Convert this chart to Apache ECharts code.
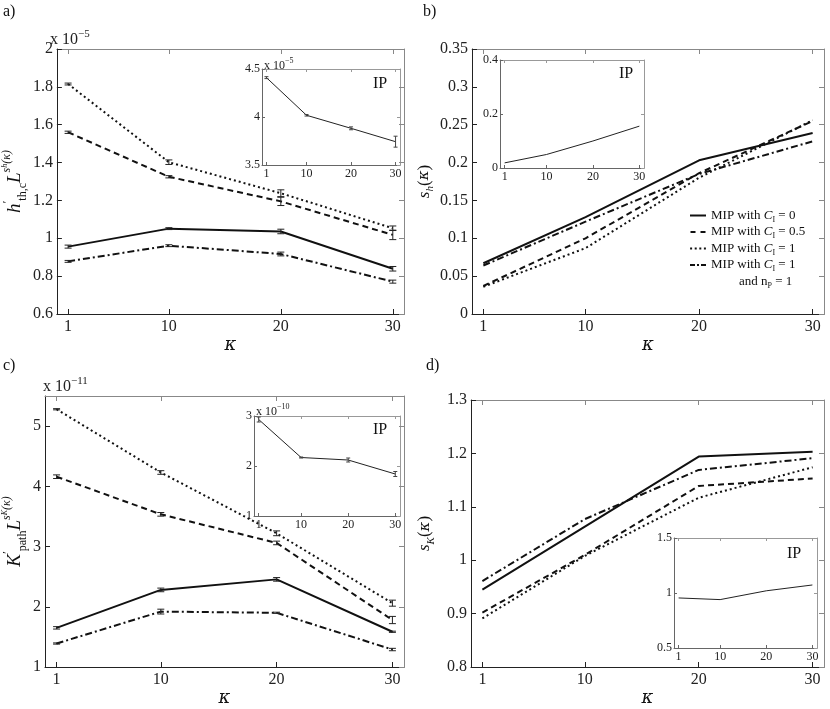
<!DOCTYPE html>
<html><head><meta charset="utf-8">
<script src="https://cdn.jsdelivr.net/npm/echarts@6/dist/echarts.min.js"></script>
<style>html,body{margin:0;padding:0;background:#fff}#c{width:830px;height:709px}</style>
</head><body><div id="c"></div>
<script>
// ---------- data ----------
const kappa = [1, 10, 20, 30];
const xTicks = [1, 10, 20, 30];

// a) h'_th,c L^{s_h(κ)}  (x 1e-5)
const hC0    = [0.956, 1.051, 1.036, 0.839];
const hC05   = [1.560, 1.325, 1.195, 1.018];
const hC1    = [1.815, 1.402, 1.238, 1.053];
const hC1np  = [0.878, 0.961, 0.917, 0.771];
const hErrC0   = [0.008, 0.005, 0.012, 0.012];
const hErrC05  = [0.006, 0.006, 0.022, 0.025];
const hErrC1   = [0.005, 0.012, 0.018, 0.012];
const hErrC1np = [0.005, 0.005, 0.010, 0.008];
const hIP    = [4.41, 4.018, 3.882, 3.743];
const hIPErr = [0.01, 0.008, 0.015, 0.057];
const hTicks   = [0.6, 0.8, 1, 1.2, 1.4, 1.6, 1.8, 2];
const hIPTicks = [3.5, 4, 4.5];

// b) s_h(κ)
const shC0   = [0.067, 0.128, 0.203, 0.239];
const shC05  = [0.037, 0.100, 0.186, 0.255];
const shC1   = [0.036, 0.087, 0.180, 0.256];
const shC1np = [0.064, 0.122, 0.185, 0.228];
const shIP   = [0.019, 0.050, 0.100, 0.155];
const shTicks   = [0, 0.05, 0.1, 0.15, 0.2, 0.25, 0.3, 0.35];
const shIPTicks = [0, 0.2, 0.4];

// c) K'_path L^{s_K(κ)}  (x 1e-11), inset x 1e-10
const kC0   = [1.65, 2.28, 2.455, 1.585];
const kC05  = [4.16, 3.535, 3.06, 1.78];
const kC1   = [5.28, 4.23, 3.22, 2.06];
const kC1np = [1.39, 1.92, 1.90, 1.29];
const kErrC0   = [0.02, 0.03, 0.03, 0.01];
const kErrC05  = [0.03, 0.03, 0.03, 0.06];
const kErrC1   = [0.01, 0.03, 0.04, 0.05];
const kErrC1np = [0.01, 0.04, 0.01, 0.02];
const kIP    = [2.93, 2.17, 2.12, 1.84];
const kIPErr = [0.05, 0.01, 0.04, 0.05];
const kTicks   = [1, 2, 3, 4, 5];
const kIPTicks = [1, 2, 3];

// d) s_K(κ)
const skC0   = [0.945, 1.063, 1.194, 1.203];
const skC05  = [0.902, 1.010, 1.139, 1.153];
const skC1   = [0.891, 1.008, 1.117, 1.174];
const skC1np = [0.961, 1.077, 1.169, 1.191];
const skIP   = [0.955, 0.940, 1.020, 1.073];
const skTicks   = [0.8, 0.9, 1, 1.1, 1.2, 1.3];
const skIPTicks = [0.5, 1, 1.5];

// ---------- styles ----------
const FONT = 'Liberation Serif';
const STY = {
  c0:   {type: 'solid', width: 2},
  c05:  {type: [6, 4], width: 2},
  c1:   {type: [2, 3], width: 2},
  c1np: {type: [7, 3, 2, 3], width: 2}
};
const ICON = {
  c0:   'path://M0,0h16v2h-16z',
  c05:  'path://M0,0h5v2h-5zM10,0h5v2h-5z',
  c1:   'path://M0,0h2v2h-2zM4.6,0h2v2h-2zM9.2,0h2v2h-2zM13.8,0h2v2h-2z',
  c1np: 'path://M0,0h5v2h-5zM7,0h2v2h-2zM11,0h5v2h-5z'
};

const grids = [
  {left: 49,  top: 49,  width: 355, height: 265},  // a
  {left: 472, top: 49,  width: 352, height: 265},  // b
  {left: 43,  top: 396, width: 361, height: 271},  // c
  {left: 471, top: 400, width: 353, height: 267},  // d
  {left: 262, top: 69,  width: 138, height: 96},   // a inset
  {left: 500, top: 60,  width: 144, height: 108},  // b inset
  {left: 254, top: 416, width: 146, height: 100},  // c inset
  {left: 674, top: 538, width: 143, height: 110}   // d inset
];

const xAxes = [], yAxes = [];
function addAxes(gi, yMin, yMax, yTicks, inset, yName, yRich, yGap) {
  const fs = inset ? 12 : 16;
  const mainCol = inset ? '#666' : '#222';
  const mirCol = inset ? '#999' : '#888';
  const tl = inset ? 3 : 5;
  xAxes.push({
    gridIndex: gi, type: 'value', min: 0, max: 31, position: 'bottom',
    axisLine: {show: true, onZero: false, lineStyle: {color: mainCol, width: 1}},
    axisTick: {show: true, inside: true, length: tl, customValues: xTicks, lineStyle: {color: mainCol}},
    axisLabel: {show: true, customValues: xTicks, fontFamily: FONT, fontSize: fs, color: '#222', margin: inset ? 3 : 5},
    splitLine: {show: false},
    name: inset ? '' : 'κ', nameLocation: 'middle', nameGap: 21,
    nameTextStyle: {fontFamily: 'DejaVu Serif', fontStyle: 'italic', fontSize: 18, color: '#111'}
  });
  xAxes.push({
    gridIndex: gi, type: 'value', min: 0, max: 31, position: 'top',
    axisLine: {show: true, onZero: false, lineStyle: {color: mirCol, width: 1}},
    axisTick: {show: true, inside: true, length: tl, customValues: xTicks, lineStyle: {color: mirCol}},
    axisLabel: {show: false}, splitLine: {show: false}
  });
  yAxes.push({
    gridIndex: gi, type: 'value', min: yMin, max: yMax, position: 'left',
    axisLine: {show: true, onZero: false, lineStyle: {color: mainCol, width: 1}},
    axisTick: {show: true, inside: true, length: tl, customValues: yTicks, lineStyle: {color: mainCol}},
    axisLabel: {show: true, customValues: yTicks, fontFamily: FONT, fontSize: fs, color: '#222', margin: inset ? 2 : 4},
    splitLine: {show: false},
    name: yName || '', nameLocation: 'middle', nameRotate: 90, nameGap: yGap || 30,
    nameTextStyle: {rich: yRich || {}}
  });
  yAxes.push({
    gridIndex: gi, type: 'value', min: yMin, max: yMax, position: 'right',
    axisLine: {show: true, onZero: false, lineStyle: {color: mirCol, width: 1}},
    axisTick: {show: true, inside: true, length: tl, customValues: yTicks, lineStyle: {color: mirCol}},
    axisLabel: {show: false}, splitLine: {show: false}
  });
}

const richBig = {
  i:  {fontFamily: FONT, fontStyle: 'italic', fontSize: 19, lineHeight: 28, color: '#111'},
  n:  {fontFamily: FONT, fontSize: 19, lineHeight: 28, color: '#111'},
  p:  {fontFamily: FONT, fontSize: 13, lineHeight: 13, verticalAlign: 'top', color: '#111'},
  b:  {fontFamily: FONT, fontSize: 12, lineHeight: 12, verticalAlign: 'bottom', color: '#111'},
  s:  {fontFamily: FONT, fontStyle: 'italic', fontSize: 12, lineHeight: 12, verticalAlign: 'top', color: '#111'},
  ss: {fontFamily: FONT, fontStyle: 'italic', fontSize: 8, lineHeight: 22, verticalAlign: 'top', color: '#111'}
};
const richSmall = {
  i: {fontFamily: FONT, fontStyle: 'italic', fontSize: 17, lineHeight: 24, color: '#111'},
  k: {fontFamily: 'DejaVu Serif', fontStyle: 'italic', fontSize: 15, lineHeight: 24, color: '#111'},
  n: {fontFamily: FONT, fontSize: 17, lineHeight: 24, color: '#111'},
  b: {fontFamily: FONT, fontStyle: 'italic', fontSize: 11, lineHeight: 11, verticalAlign: 'bottom', color: '#111'}
};

addAxes(0, 0.6, 2, hTicks, false, '{i|h}{p|′}{b|th,c}{i|L}{s|s}{ss|h}{s|(κ)}', richBig, 24);
addAxes(1, 0, 0.35, shTicks, false, '{i|s}{b|h}{n|(}{k|κ}{n|)}', richSmall, 34);
addAxes(2, 1, 5.5, kTicks, false, '{i|K}{p|′}{b|path}{i|L}{s|s}{ss|K}{s|(κ)}', richBig, 16);
addAxes(3, 0.8, 1.3, skTicks, false, '{i|s}{b|K}{n|(}{k|κ}{n|)}', richSmall, 34);
addAxes(4, 3.5, 4.5, hIPTicks, true);
addAxes(5, 0, 0.4, shIPTicks, true);
addAxes(6, 1, 3, kIPTicks, true);
addAxes(7, 0.5, 1.5, skIPTicks, true);

const series = [];
function pts(v) { return kappa.map((k, i) => [k, v[i]]); }
function addLine(gi, name, vals, sty, inset) {
  series.push({
    type: 'line', name: name, xAxisIndex: gi * 2, yAxisIndex: gi * 2,
    data: pts(vals), symbol: 'none', silent: true, animation: false, z: 3,
    itemStyle: {color: '#111'},
    lineStyle: inset ? {color: '#222', width: 1, type: 'solid'} : {color: '#111', width: sty.width, type: sty.type}
  });
}
function addErr(gi, vals, errs, inset) {
  const cap = inset ? 2 : 3.5;
  series.push({
    type: 'custom', name: 'err', xAxisIndex: gi * 2, yAxisIndex: gi * 2,
    data: kappa.map((k, i) => [k, vals[i] - errs[i], vals[i] + errs[i]]),
    encode: {x: 0, y: [1, 2]}, silent: true, animation: false, z: 4, clip: false,
    renderItem: function (params, api) {
      const x = api.value(0);
      const p1 = api.coord([x, api.value(1)]);
      const p2 = api.coord([x, api.value(2)]);
      const st = {stroke: inset ? '#444' : '#222', lineWidth: 1};
      return {type: 'group', children: [
        {type: 'line', shape: {x1: p1[0], y1: p1[1], x2: p2[0], y2: p2[1]}, style: st},
        {type: 'line', shape: {x1: p1[0] - cap, y1: p1[1], x2: p1[0] + cap, y2: p1[1]}, style: st},
        {type: 'line', shape: {x1: p2[0] - cap, y1: p2[1], x2: p2[0] + cap, y2: p2[1]}, style: st}
      ]};
    }
  });
}

// panel b first
addLine(1, 'c0', shC0, STY.c0);
addLine(1, 'c05', shC05, STY.c05);
addLine(1, 'c1', shC1, STY.c1);
addLine(1, 'c1np', shC1np, STY.c1np);
series.push({type: 'line', name: 'np', xAxisIndex: 2, yAxisIndex: 2, data: [], symbol: 'none',
  itemStyle: {color: 'rgba(0,0,0,0)'}, lineStyle: {color: 'rgba(0,0,0,0)', width: 0}});

addLine(0, 'c0', hC0, STY.c0);   addErr(0, hC0, hErrC0);
addLine(0, 'c05', hC05, STY.c05); addErr(0, hC05, hErrC05);
addLine(0, 'c1', hC1, STY.c1);   addErr(0, hC1, hErrC1);
addLine(0, 'c1np', hC1np, STY.c1np); addErr(0, hC1np, hErrC1np);

addLine(2, 'c0', kC0, STY.c0);   addErr(2, kC0, kErrC0);
addLine(2, 'c05', kC05, STY.c05); addErr(2, kC05, kErrC05);
addLine(2, 'c1', kC1, STY.c1);   addErr(2, kC1, kErrC1);
addLine(2, 'c1np', kC1np, STY.c1np); addErr(2, kC1np, kErrC1np);

addLine(3, 'c0', skC0, STY.c0);
addLine(3, 'c05', skC05, STY.c05);
addLine(3, 'c1', skC1, STY.c1);
addLine(3, 'c1np', skC1np, STY.c1np);

addLine(4, 'ip', hIP, null, true);  addErr(4, hIP, hIPErr, true);
addLine(5, 'ip', shIP, null, true);
addLine(6, 'ip', kIP, null, true);  addErr(6, kIP, kIPErr, true);
addLine(7, 'ip', skIP, null, true);

const legendText = {
  c0:   '{t|MIP with }{i|C}{b|I}{t| = 0}',
  c05:  '{t|MIP with }{i|C}{b|I}{t| = 0.5}',
  c1:   '{t|MIP with }{i|C}{b|I}{t| = 1}',
  c1np: '{t|MIP with }{i|C}{b|I}{t| = 1}',
  np:   '{pad| }{t|and n}{b|P}{t| = 1}'
};
const legIconStyle = {color: '#111', borderWidth: 0};

function lab(text, left, top, size, rich) {
  const ts = {fontFamily: FONT, fontSize: size, fontWeight: 'normal', color: '#111'};
  if (rich) ts.rich = rich;
  return {text: text, left: left, top: top, padding: 0, textStyle: ts};
}
const multRich = function (fs, ss) {
  return {
    n: {fontFamily: FONT, fontSize: fs, fontWeight: 'normal', lineHeight: fs + 6, color: '#222'},
    s: {fontFamily: FONT, fontSize: ss, fontWeight: 'normal', lineHeight: ss, verticalAlign: 'top', color: '#222'}
  };
};

const option = {
  backgroundColor: '#fff',
  animation: false,
  grid: grids.map((g, i) => Object.assign({containLabel: false, show: i >= 4, backgroundColor: '#fff', borderWidth: 0}, g)),
  xAxis: xAxes,
  yAxis: yAxes,
  series: series,
  legend: {
    data: [
      {name: 'c0', icon: ICON.c0, itemStyle: legIconStyle},
      {name: 'c05', icon: ICON.c05, itemStyle: legIconStyle},
      {name: 'c1', icon: ICON.c1, itemStyle: legIconStyle},
      {name: 'c1np', icon: ICON.c1np, itemStyle: legIconStyle},
      {name: 'np', icon: 'none'}
    ],
    orient: 'vertical', left: 690, top: 209, itemWidth: 16, itemHeight: 2, itemGap: 2,
    padding: 0, selectedMode: false,
    formatter: function (n) { return legendText[n]; },
    textStyle: {
      fontFamily: FONT, fontSize: 13, color: '#111',
      rich: {
        t: {fontFamily: FONT, fontSize: 13, lineHeight: 16, color: '#111'},
        i: {fontFamily: FONT, fontStyle: 'italic', fontSize: 13, lineHeight: 16, color: '#111'},
        b: {fontFamily: FONT, fontSize: 8, lineHeight: 9, verticalAlign: 'bottom', color: '#111'},
        pad: {width: 28, fontSize: 13, lineHeight: 16}
      }
    }
  },
  title: [
    lab('a)', 3, 4, 16),
    lab('b)', 423, 4, 16),
    lab('c)', 3, 358, 16),
    lab('d)', 426, 358, 16),
    lab('IP', 373, 76, 16),
    lab('IP', 619, 66, 16),
    lab('IP', 373, 422, 16),
    lab('IP', 787, 546, 16),
    lab('{n|x 10}{s|−5}', 50, 29, 16, multRich(16, 11)),
    lab('{n|x 10}{s|−11}', 43, 376, 16, multRich(16, 11)),
    lab('{n|x 10}{s|−5}', 264, 57, 12, multRich(12, 8)),
    lab('{n|x 10}{s|−10}', 256, 403, 12, multRich(12, 8))
  ]
};

const chart = echarts.init(document.getElementById('c'), null, {renderer: 'canvas'});
chart.setOption(option);
</script>
</body></html>
